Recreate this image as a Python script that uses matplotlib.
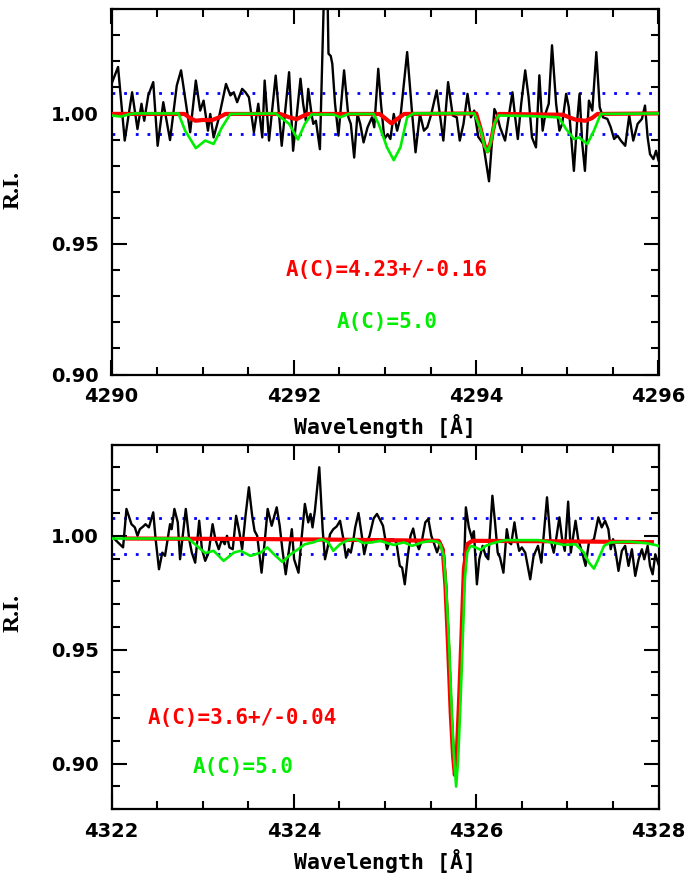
import matplotlib
matplotlib.use("Agg")
import matplotlib.pyplot as plt
from matplotlib.ticker import MultipleLocator, FormatStrFormatter

# ---------------- data: top panel (4290-4296 A) ----------------
top_obs_wave = [4290.000, 4290.072, 4290.145, 4290.226, 4290.285, 4290.329, 4290.359, 4290.403,
                4290.458, 4290.506, 4290.568, 4290.642, 4290.716, 4290.763, 4290.863, 4290.925,
                4290.973, 4291.010, 4291.058, 4291.083, 4291.120, 4291.175, 4291.256, 4291.304,
                4291.341, 4291.378, 4291.433, 4291.470, 4291.507, 4291.562, 4291.610, 4291.654,
                4291.680, 4291.728, 4291.801, 4291.867, 4291.948, 4291.992, 4292.073, 4292.102,
                4292.132, 4292.158, 4292.194, 4292.213, 4292.242, 4292.286, 4292.330, 4292.345,
                4292.370, 4292.380, 4292.405, 4292.422, 4292.452, 4292.489, 4292.551, 4292.599,
                4292.625, 4292.662, 4292.698, 4292.728, 4292.765, 4292.809, 4292.857, 4292.882,
                4292.926, 4292.956, 4292.993, 4293.029, 4293.059, 4293.096, 4293.133, 4293.169,
                4293.243, 4293.298, 4293.335, 4293.383, 4293.427, 4293.464, 4293.508, 4293.567,
                4293.611, 4293.640, 4293.692, 4293.743, 4293.787, 4293.820, 4293.861, 4293.905,
                4293.942, 4293.979, 4294.023, 4294.078, 4294.141, 4294.200, 4294.225, 4294.262,
                4294.317, 4294.361, 4294.398, 4294.428, 4294.457, 4294.494, 4294.538, 4294.575,
                4294.612, 4294.656, 4294.693, 4294.729, 4294.759, 4294.796, 4294.832, 4294.877,
                4294.913, 4294.943, 4294.987, 4295.016, 4295.072, 4295.108, 4295.134, 4295.164,
                4295.193, 4295.237, 4295.274, 4295.318, 4295.355, 4295.392, 4295.439, 4295.476,
                4295.513, 4295.550, 4295.587, 4295.635, 4295.679, 4295.723, 4295.771, 4295.818,
                4295.852, 4295.881, 4295.907, 4295.944, 4295.973, 4296.000]
top_obs_flux = [1.0113, 1.0178, 0.9896, 1.0081, 0.9940, 1.0037, 0.9972, 1.0069,
                1.0120, 0.9876, 1.0043, 0.9898, 1.0107, 1.0165, 0.9928, 1.0126,
                1.0011, 1.0049, 0.9934, 0.9998, 0.9908, 0.9979, 1.0113, 1.0069,
                1.0081, 1.0043, 1.0094, 1.0081, 1.0062, 0.9928, 1.0037, 0.9908,
                1.0126, 0.9896, 1.0145, 0.9876, 1.0158, 0.9857, 1.0133, 1.0037,
                0.9972, 1.0094, 0.9998, 0.9960, 0.9972, 0.9863, 1.0450, 1.0600,
                1.0450, 1.0229, 1.0220, 1.0190, 1.0037, 0.9915, 1.0165, 0.9985,
                0.9960, 0.9831, 0.9998, 0.9960, 0.9889, 0.9947, 0.9985, 0.9947,
                1.0171, 1.0037, 0.9902, 0.9921, 0.9902, 0.9998, 0.9934, 0.9985,
                1.0235, 0.9998, 0.9851, 0.9998, 0.9934, 0.9947, 0.9998, 1.0088,
                0.9972, 0.9896, 1.0120, 0.9992, 0.9985, 0.9896, 0.9960, 1.0075,
                0.9985, 1.0011, 0.9910, 0.9883, 0.9740, 1.0017, 0.9998, 0.9947,
                0.9896, 0.9998, 1.0081, 0.9985, 0.9902, 1.0037, 1.0165, 1.0062,
                0.9908, 0.9870, 1.0146, 0.9934, 0.9998, 1.0037, 1.0261, 1.0037,
                0.9934, 0.9960, 1.0075, 1.0024, 0.9780, 0.9972, 1.0075, 0.9883,
                0.9780, 1.0049, 1.0011, 1.0235, 1.0024, 0.9985, 0.9979, 0.9947,
                0.9902, 0.9915, 0.9896, 0.9876, 0.9992, 0.9896, 0.9960, 0.9979,
                1.0030, 0.9908, 0.9844, 0.9825, 0.9857, 0.9820]

top_fit_wave = [4290.00, 4290.80, 4290.85, 4290.92, 4291.00, 4291.10, 4291.18, 4291.25,
                4291.85, 4291.95, 4292.03, 4292.10, 4292.15, 4292.94, 4293.00, 4293.07,
                4293.14, 4293.21, 4294.00, 4294.05, 4294.09, 4294.125, 4294.16, 4294.20,
                4294.25, 4294.95, 4295.02, 4295.10, 4295.20, 4295.27, 4295.33, 4296.00]
top_fit_flux = [0.9998, 0.9998, 0.9985, 0.9972, 0.9975, 0.9974, 0.9985, 0.9998,
                0.9998, 0.9985, 0.9978, 0.9990, 0.9998, 0.9998, 0.9982, 0.9962,
                0.9980, 0.9998, 1.0000, 0.9940, 0.9880, 0.9855, 0.9890, 0.9960,
                0.9998, 0.9995, 0.9985, 0.9975, 0.9972, 0.9982, 0.9998, 1.0000]

top_c50_wave = [4290.000, 4290.108, 4290.182, 4290.256, 4290.734, 4290.808, 4290.925, 4291.028,
                4291.120, 4291.212, 4291.304, 4291.801, 4291.948, 4292.045, 4292.121, 4292.194,
                4292.433, 4292.507, 4292.599, 4292.875, 4292.930, 4293.022, 4293.096, 4293.169,
                4293.243, 4293.316, 4293.979, 4294.050, 4294.090, 4294.125, 4294.160, 4294.200,
                4294.244, 4294.575, 4294.906, 4294.987, 4295.072, 4295.127, 4295.219, 4295.292,
                4295.366, 4296.000]
top_c50_flux = [0.9992, 0.9988, 0.9996, 1.0000, 1.0000, 0.9934, 0.9867, 0.9896,
                0.9883, 0.9947, 0.9998, 1.0000, 0.9960, 0.9900, 0.9960, 0.9996,
                0.9996, 0.9985, 0.9998, 0.9998, 0.9960, 0.9870, 0.9821, 0.9870,
                0.9985, 1.0000, 1.0000, 0.9938, 0.9875, 0.9852, 0.9888, 0.9960,
                0.9992, 0.9990, 0.9985, 0.9940, 0.9902, 0.9908, 0.9883, 0.9934,
                0.9998, 1.0000]

# ---------------- data: bottom panel (4322-4328 A) ----------------
bot_obs_wave = [4322.006, 4322.035, 4322.127, 4322.164, 4322.219, 4322.256, 4322.285, 4322.311,
                4322.348, 4322.373, 4322.410, 4322.458, 4322.484, 4322.521, 4322.557, 4322.587,
                4322.616, 4322.642, 4322.660, 4322.690, 4322.727, 4322.752, 4322.815, 4322.852,
                4322.881, 4322.918, 4322.962, 4322.992, 4323.028, 4323.065, 4323.109, 4323.139,
                4323.176, 4323.212, 4323.242, 4323.267, 4323.293, 4323.330, 4323.367, 4323.403,
                4323.433, 4323.470, 4323.507, 4323.543, 4323.569, 4323.598, 4323.646, 4323.683,
                4323.713, 4323.757, 4323.812, 4323.845, 4323.874, 4323.911, 4323.948, 4323.978,
                4324.003, 4324.051, 4324.084, 4324.121, 4324.158, 4324.183, 4324.205, 4324.231,
                4324.279, 4324.316, 4324.342, 4324.367, 4324.397, 4324.433, 4324.470, 4324.507,
                4324.544, 4324.573, 4324.599, 4324.625, 4324.654, 4324.673, 4324.709, 4324.746,
                4324.772, 4324.801, 4324.831, 4324.875, 4324.912, 4324.941, 4324.978, 4325.022,
                4325.059, 4325.088, 4325.125, 4325.162, 4325.188, 4325.217, 4325.250, 4325.280,
                4325.309, 4325.335, 4325.372, 4325.408, 4325.442, 4325.475, 4325.508, 4325.534,
                4325.571, 4325.607, 4325.644, 4325.670, 4325.700, 4325.730, 4325.760, 4325.790,
                4325.820, 4325.850, 4325.887, 4325.920, 4325.957, 4325.975, 4326.008, 4326.034,
                4326.071, 4326.104, 4326.133, 4326.178, 4326.207, 4326.236, 4326.262, 4326.299,
                4326.336, 4326.361, 4326.384, 4326.420, 4326.446, 4326.472, 4326.501, 4326.538,
                4326.593, 4326.630, 4326.678, 4326.715, 4326.777, 4326.814, 4326.851, 4326.877,
                4326.913, 4326.943, 4326.972, 4327.009, 4327.038, 4327.060, 4327.090, 4327.119,
                4327.163, 4327.200, 4327.237, 4327.292, 4327.340, 4327.377, 4327.414, 4327.450,
                4327.476, 4327.502, 4327.531, 4327.561, 4327.598, 4327.634, 4327.671, 4327.708,
                4327.745, 4327.782, 4327.818, 4327.844, 4327.881, 4327.907, 4327.936, 4327.965,
                4328.000]
bot_obs_flux = [1.0000, 0.9985, 0.9949, 1.0118, 1.0051, 1.0037, 1.0000, 1.0029,
                1.0041, 1.0051, 1.0037, 1.0103, 0.9985, 0.9853, 0.9926, 0.9912,
                0.9985, 1.0051, 1.0029, 1.0118, 1.0059, 0.9897, 1.0118, 0.9985,
                0.9926, 0.9882, 1.0066, 0.9941, 0.9890, 0.9926, 1.0051, 0.9985,
                0.9941, 0.9985, 0.9963, 1.0000, 0.9949, 0.9941, 1.0088, 1.0015,
                0.9941, 1.0088, 1.0213, 1.0088, 1.0022, 1.0000, 0.9838, 0.9985,
                1.0118, 1.0044, 1.0125, 1.0044, 0.9941, 0.9831, 0.9941, 1.0029,
                0.9897, 0.9838, 0.9985, 1.0140, 1.0059, 1.0096, 1.0037, 1.0110,
                1.0301, 1.0029, 0.9897, 0.9941, 1.0007, 1.0029, 1.0041, 1.0066,
                0.9985, 0.9904, 0.9941, 0.9926, 0.9985, 1.0037, 1.0100, 1.0000,
                0.9919, 0.9971, 1.0000, 1.0076, 1.0096, 1.0074, 1.0044, 0.9941,
                0.9985, 0.9985, 0.9971, 0.9868, 0.9860, 0.9787, 0.9912, 1.0000,
                1.0032, 0.9978, 0.9941, 0.9985, 1.0059, 1.0074, 1.0000, 0.9971,
                0.9927, 0.9971, 0.9934, 0.9780, 0.9530, 0.9220, 0.8990, 0.9000,
                0.9300, 0.9650, 1.0125, 1.0037, 0.9985, 1.0020, 0.9787, 0.9897,
                0.9956, 0.9912, 0.9897, 1.0176, 1.0059, 0.9926, 0.9904, 0.9838,
                1.0029, 0.9971, 0.9963, 1.0059, 0.9985, 0.9934, 0.9949, 0.9926,
                0.9809, 0.9912, 0.9956, 0.9882, 1.0169, 0.9985, 0.9926, 0.9985,
                1.0081, 0.9985, 0.9934, 1.0150, 0.9926, 0.9985, 1.0066, 0.9985,
                0.9926, 0.9868, 0.9971, 0.9985, 1.0081, 1.0037, 1.0066, 1.0029,
                0.9941, 0.9985, 0.9926, 0.9846, 0.9934, 0.9956, 0.9868, 0.9941,
                0.9824, 0.9897, 0.9941, 0.9897, 0.9956, 0.9868, 0.9831, 0.9919,
                0.9875]

bot_fit_wave = [4322.15, 4323.50, 4324.50, 4325.405, 4325.589, 4325.633, 4325.663, 4325.692,
                4325.721, 4325.747, 4325.766, 4325.788, 4325.810, 4325.839, 4325.865, 4325.902,
                4325.957, 4326.80, 4327.95]
bot_fit_flux = [0.9988, 0.9986, 0.9983, 0.9979, 0.9978, 0.9941, 0.9780, 0.9515,
                0.9222, 0.9031, 0.8950, 0.9046, 0.9251, 0.9560, 0.9853, 0.9963,
                0.9978, 0.9976, 0.9972]

bot_c50_wave = [4322.000, 4322.844, 4322.936, 4323.028, 4323.120, 4323.230, 4323.341, 4323.414,
                4323.525, 4323.635, 4323.709, 4323.782, 4323.874, 4323.966, 4324.058, 4324.121,
                4324.213, 4324.305, 4324.378, 4324.433, 4324.507, 4324.599, 4324.673, 4324.765,
                4324.857, 4324.949, 4325.022, 4325.096, 4325.206, 4325.298, 4325.408, 4325.500,
                4325.574, 4325.607, 4325.644, 4325.670, 4325.699, 4325.729, 4325.754, 4325.780,
                4325.802, 4325.828, 4325.854, 4325.876, 4325.902, 4325.938, 4325.994, 4326.049,
                4326.104, 4326.178, 4326.317, 4326.685, 4326.869, 4326.961, 4327.090, 4327.182,
                4327.237, 4327.292, 4327.340, 4327.403, 4327.476, 4327.679, 4327.863, 4327.973,
                4328.000]
bot_c50_flux = [0.9988, 0.9988, 0.9956, 0.9924, 0.9934, 0.9890, 0.9926, 0.9934,
                0.9912, 0.9926, 0.9949, 0.9919, 0.9885, 0.9919, 0.9944, 0.9963,
                0.9971, 0.9985, 0.9971, 0.9934, 0.9963, 0.9982, 0.9985, 0.9968,
                0.9971, 0.9978, 0.9968, 0.9960, 0.9971, 0.9956, 0.9971, 0.9978,
                0.9974, 0.9963, 0.9912, 0.9780, 0.9560, 0.9266, 0.9046, 0.8899,
                0.9016, 0.9266, 0.9560, 0.9809, 0.9927, 0.9956, 0.9949, 0.9938,
                0.9956, 0.9967, 0.9981, 0.9981, 0.9968, 0.9960, 0.9963, 0.9926,
                0.9882, 0.9856, 0.9897, 0.9956, 0.9971, 0.9974, 0.9968, 0.9959,
                0.9955]

rms_levels = [1.008, 0.992]

top_labels = ["A(C)=4.23+/-0.16", "A(C)=5.0"]
bot_labels = ["A(C)=3.6+/-0.04", "A(C)=5.0"]

RED = "#ff0000"
GREEN = "#00ee00"
BLUE = "#0000ff"

W, H = 689, 876
fig = plt.figure(figsize=(W / 100, H / 100), dpi=100)

def frac(left, top, right, bottom):
    return [left / W, 1 - bottom / H, (right - left) / W, (bottom - top) / H]

ax1 = fig.add_axes(frac(111.5, 9, 658.5, 374.5))
ax2 = fig.add_axes(frac(111.5, 444.7, 658.5, 809.1))

tick_font = {"family": "DejaVu Sans", "weight": "bold", "size": 14}
mono_font = dict(family="DejaVu Sans Mono", weight="bold")

def style(ax, xlim, ylim, xmajor):
    ax.set_xlim(*xlim)
    ax.set_ylim(*ylim)
    ax.xaxis.set_major_locator(MultipleLocator(xmajor))
    ax.xaxis.set_minor_locator(MultipleLocator(0.5))
    ax.yaxis.set_major_locator(MultipleLocator(0.05))
    ax.yaxis.set_minor_locator(MultipleLocator(0.01))
    ax.yaxis.set_major_formatter(FormatStrFormatter("%.2f"))
    ax.xaxis.set_major_formatter(FormatStrFormatter("%d"))
    ax.tick_params(which="both", direction="in", top=True, right=True, width=1.5)
    ax.tick_params(which="major", length=10.5)
    ax.tick_params(axis="y", which="major", pad=9)
    ax.tick_params(axis="x", which="major", pad=9)
    ax.tick_params(which="minor", length=5.8)
    for lab in ax.get_xticklabels() + ax.get_yticklabels():
        lab.set_fontproperties(tick_font)
    for sp in ax.spines.values():
        sp.set_linewidth(1.6)
    ax.set_xlabel("Wavelength [Å]", fontsize=15.5, labelpad=6, **mono_font)
    ax.set_ylabel("R.I.", fontsize=17, family="Liberation Serif", weight="bold")
    ax.yaxis.label.set_va("center")

def draw(ax, ow, of, fw, ff, gw, gf):
    for lev in rms_levels:
        ax.axhline(lev, color=BLUE, lw=2.0, linestyle=(0, (1, 3.2)), zorder=1)
    ax.plot(ow, of, color="black", lw=1.7, zorder=2)
    ax.plot(fw, ff, color=RED, lw=3.0, zorder=3, solid_capstyle="butt")
    ax.plot(gw, gf, color=GREEN, lw=1.9, zorder=4)

draw(ax1, top_obs_wave, top_obs_flux, top_fit_wave, top_fit_flux, top_c50_wave, top_c50_flux)
draw(ax2, bot_obs_wave, bot_obs_flux, bot_fit_wave, bot_fit_flux, bot_c50_wave, bot_c50_flux)

style(ax1, (4290, 4296), (0.90, 1.04), 2)
style(ax2, (4322, 4328), (0.88, 1.04), 2)

ax1.yaxis.set_label_coords(-0.180, 0.505)
ax2.yaxis.set_label_coords(-0.180, 0.538)

ax1.text(4293.02, 0.9402, top_labels[0], color=RED, ha="center", va="center", fontsize=15, **mono_font)
ax1.text(4293.02, 0.9202, top_labels[1], color=GREEN, ha="center", va="center", fontsize=15, **mono_font)
ax2.text(4323.43, 0.9201, bot_labels[0], color=RED, ha="center", va="center", fontsize=15, **mono_font)
ax2.text(4323.44, 0.8986, bot_labels[1], color=GREEN, ha="center", va="center", fontsize=15, **mono_font)

fig.savefig("out.png", dpi=100)
